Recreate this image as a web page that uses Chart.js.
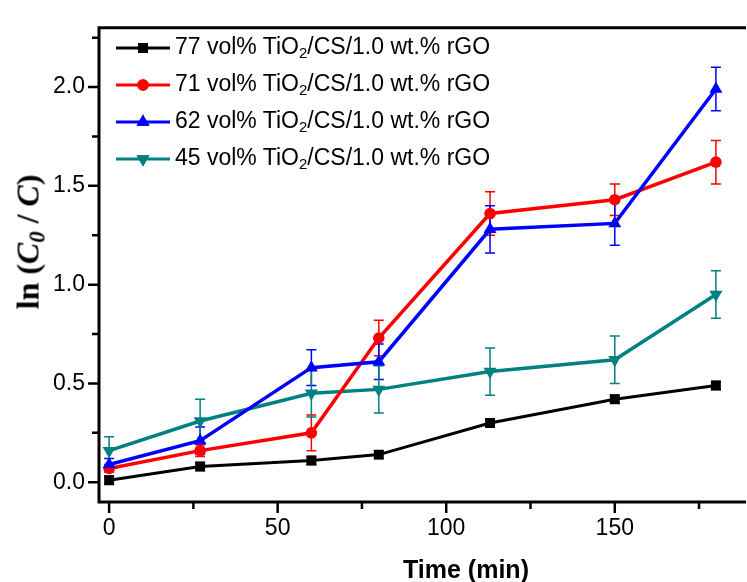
<!DOCTYPE html>
<html><head><meta charset="utf-8">
<script src="https://cdn.jsdelivr.net/npm/chart.js@4/dist/chart.umd.min.js"></script>
<style>
html,body{margin:0;padding:0;background:#fff;overflow:hidden;}
#wrap{position:relative;width:747px;height:582px;overflow:hidden;}
#c{position:absolute;left:0;top:0;}
.ytitle{position:absolute;left:30px;top:242px;transform:translate(-50%,-50%) rotate(-90deg);font-family:"Liberation Serif","Times New Roman",serif;font-weight:bold;font-size:32px;white-space:nowrap;color:#000;line-height:1;}
.ytitle i{font-style:italic;}
.ytitle sub{font-size:0.7em;vertical-align:-0.25em;}
.xtitle{position:absolute;left:466px;top:569px;transform:translate(-50%,-50%);font-family:"Liberation Sans",Arial,sans-serif;font-weight:bold;font-size:25px;white-space:nowrap;color:#000;line-height:1;}
.leg{position:absolute;left:175px;font-family:"Liberation Sans",Arial,sans-serif;font-size:23px;white-space:nowrap;color:#000;line-height:1;transform:translateY(-50%);}
.leg sub{font-size:0.65em;vertical-align:-0.3em;}
</style></head>
<body>
<div id="wrap">
<canvas id="c" width="747" height="582"></canvas>
<div class="ytitle">ln (<i>C<sub>0</sub></i> / <i>C</i>)</div>
<div class="xtitle">Time (min)</div>
<div class="leg" style="top:48px">77 vol% TiO<sub>2</sub>/CS/1.0 wt.% rGO</div>
<div class="leg" style="top:85px">71 vol% TiO<sub>2</sub>/CS/1.0 wt.% rGO</div>
<div class="leg" style="top:122px">62 vol% TiO<sub>2</sub>/CS/1.0 wt.% rGO</div>
<div class="leg" style="top:159px">45 vol% TiO<sub>2</sub>/CS/1.0 wt.% rGO</div>
</div>
<script>
// ---- data ----
const time = [0, 27, 60, 80, 113, 150, 180];
const s77 = [0.01, 0.08, 0.11, 0.14, 0.30, 0.42, 0.49];
const e77 = [0.02, 0.02, 0.02, 0.02, 0.02, 0.02, 0.02];
const s71 = [0.07, 0.16, 0.25, 0.73, 1.36, 1.43, 1.62];
const e71 = [0.02, 0.03, 0.09, 0.09, 0.11, 0.08, 0.11];
const s62 = [0.09, 0.21, 0.58, 0.61, 1.28, 1.31, 1.99];
const e62 = [0.03, 0.07, 0.09, 0.09, 0.12, 0.11, 0.11];
const s45 = [0.16, 0.31, 0.45, 0.47, 0.56, 0.62, 0.95];
const e45 = [0.07, 0.11, 0.12, 0.12, 0.12, 0.12, 0.12];
const seriesNames = ['77 vol% TiO2/CS/1.0 wt.% rGO','71 vol% TiO2/CS/1.0 wt.% rGO','62 vol% TiO2/CS/1.0 wt.% rGO','45 vol% TiO2/CS/1.0 wt.% rGO'];
const xMajor = [0, 50, 100, 150];
const xMinor = [25, 75, 125, 175];
const yMajor = [0, 0.5, 1.0, 1.5, 2.0];
const yMinor = [0.25, 0.75, 1.25, 1.75, 2.25];

const colors = ['#000000', '#ff0000', '#0000ff', '#008080'];
const styles = ['rect', 'circle', 'triangle', 'triangle'];
const rots = [0, 0, 0, 180];
const radii = [7, 5.8, 7.5, 7.5];
const vals = [s77, s71, s62, s45];
const errs = [e77, e71, e62, e45];
const widths = [3, 3.5, 3.5, 3.5];
const orders = [4, 2, 1, 3];

const datasets = vals.map((v, k) => ({
  label: seriesNames[k],
  data: time.map((t, i) => ({x: t, y: v[i]})),
  borderColor: colors[k], backgroundColor: colors[k],
  borderWidth: widths[k], pointStyle: styles[k], pointRotation: rots[k],
  pointRadius: radii[k], pointBorderWidth: 0, tension: 0, order: orders[k],
  errors: errs[k]
}));

const framePlugin = {
  id: 'frame',
  beforeDatasetsDraw(chart) {
    const ctx = chart.ctx, xs = chart.scales.x, ys = chart.scales.y;
    ctx.save();
    chart.data.datasets.forEach((ds) => {
      ctx.strokeStyle = ds.borderColor; ctx.lineWidth = 1.5;
      ds.data.forEach((p, i) => {
        const e = ds.errors[i];
        const px = xs.getPixelForValue(p.x);
        const y1 = ys.getPixelForValue(p.y + e), y2 = ys.getPixelForValue(p.y - e);
        ctx.beginPath();
        ctx.moveTo(px, y1); ctx.lineTo(px, y2);
        ctx.moveTo(px - 5, y1); ctx.lineTo(px + 5, y1);
        ctx.moveTo(px - 5, y2); ctx.lineTo(px + 5, y2);
        ctx.stroke();
      });
    });
    ctx.restore();
  },
  afterDraw(chart) {
    const ctx = chart.ctx, a = chart.chartArea, xs = chart.scales.x, ys = chart.scales.y;
    ctx.save();
    ctx.strokeStyle = '#000'; ctx.lineWidth = 3; ctx.lineCap = 'square';
    ctx.beginPath();
    ctx.moveTo(a.left, a.top); ctx.lineTo(a.right + 5, a.top);
    ctx.moveTo(a.left, a.top); ctx.lineTo(a.left, a.bottom);
    ctx.lineTo(a.right + 5, a.bottom);
    ctx.stroke();
    ctx.lineWidth = 2.5; ctx.lineCap = 'butt';
    ctx.beginPath();
    xMajor.forEach(v => { const p = xs.getPixelForValue(v); ctx.moveTo(p, a.bottom); ctx.lineTo(p, a.bottom + 11); });
    xMinor.forEach(v => { const p = xs.getPixelForValue(v); ctx.moveTo(p, a.bottom); ctx.lineTo(p, a.bottom + 7); });
    yMajor.forEach(v => { const p = ys.getPixelForValue(v); ctx.moveTo(a.left, p); ctx.lineTo(a.left - 11, p); });
    yMinor.forEach(v => { const p = ys.getPixelForValue(v); ctx.moveTo(a.left, p); ctx.lineTo(a.left - 7, p); });
    ctx.stroke();
    // legend samples
    const legY = [48, 85, 122, 159];
    chart.data.datasets.forEach((ds, k) => {
      const y = legY[k];
      ctx.strokeStyle = ds.borderColor; ctx.lineWidth = 3;
      ctx.beginPath(); ctx.moveTo(116, y); ctx.lineTo(170, y); ctx.stroke();
      ctx.fillStyle = ds.backgroundColor;
      Chart.helpers.drawPoint(ctx, {pointStyle: ds.pointStyle, rotation: ds.pointRotation, radius: ds.pointRadius, borderWidth: 0}, 143, y);
      ctx.fill();
    });
    ctx.restore();
  }
};

new Chart(document.getElementById('c'), {
  type: 'line',
  data: {datasets},
  plugins: [framePlugin],
  options: {
    responsive: false, animation: false, devicePixelRatio: 1,
    layout: {padding: {left: 0, right: 0, top: 12, bottom: 0}},
    plugins: {legend: {display: false}, tooltip: {enabled: false}},
    scales: {
      x: {
        type: 'linear', min: -3, max: 187,
        grid: {display: false, drawTicks: false}, border: {display: false},
        afterBuildTicks: s => { s.ticks = xMajor.map(v => ({value: v})); },
        ticks: {font: {family: 'Liberation Sans', size: 23}, color: '#000', padding: 13, maxRotation: 0, autoSkip: false},
        afterFit: s => { s.height = 80; }
      },
      y: {
        type: 'linear', min: -0.1, max: 2.3,
        grid: {display: false, drawTicks: false}, border: {display: false},
        afterBuildTicks: s => { s.ticks = yMajor.map(v => ({value: v})); },
        ticks: {font: {family: 'Liberation Sans', size: 23}, color: '#000', padding: 14, autoSkip: false,
          callback: v => Number(v).toFixed(1)},
        afterFit: s => { s.width = 99; }
      }
    }
  }
});
</script>
</body></html>
